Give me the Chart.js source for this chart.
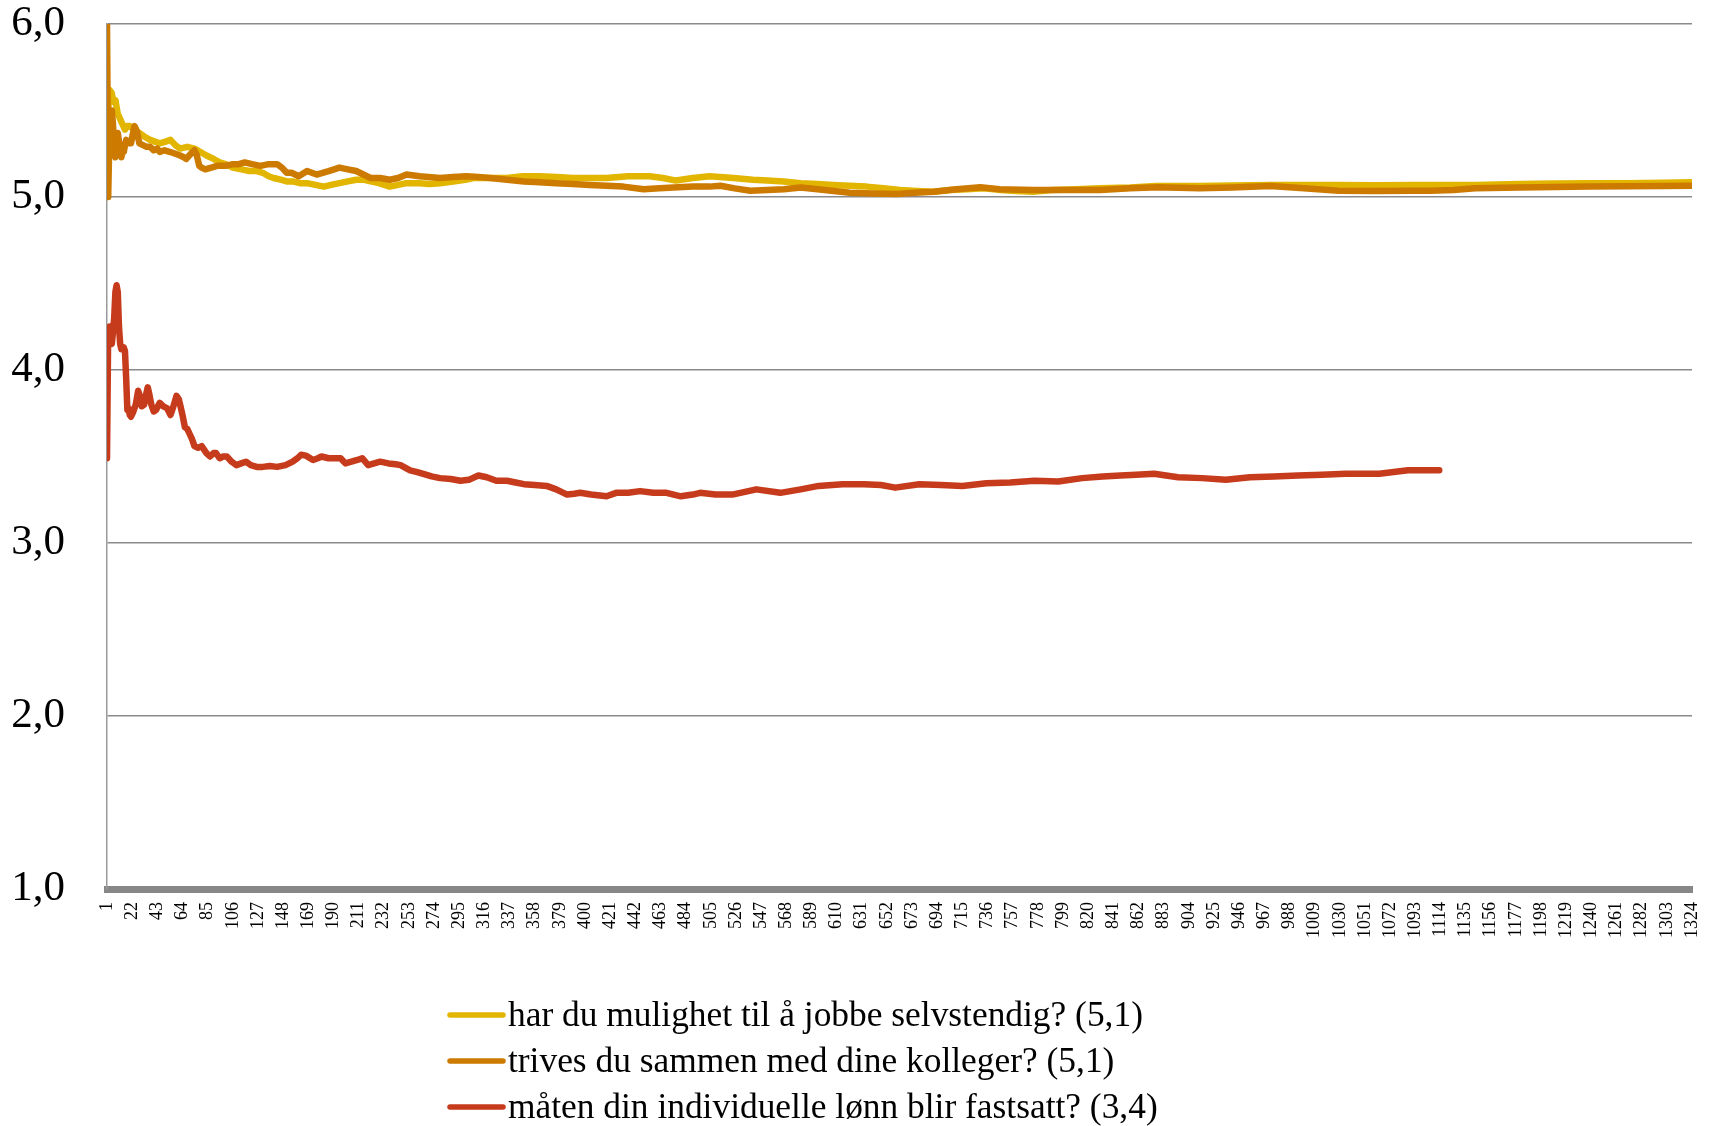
<!DOCTYPE html>
<html>
<head>
<meta charset="utf-8">
<script src="https://cdn.jsdelivr.net/npm/chart.js@4/dist/chart.umd.min.js"></script>
<style>
  html, body { margin: 0; padding: 0; background: #fff; }
  #wrap { width: 1709px; height: 1126px; position: relative; }
</style>
</head>
<body>
<div id="wrap"><canvas id="graf"></canvas></div>
<script>
// serienavn
const serieNavn = [
    'har du mulighet til å jobbe selvstendig? (5,1)',
    'trives du sammen med dine kolleger? (5,1)',
    'måten din individuelle lønn blir fastsatt? (3,4)'
];

// akse-etiketter (hver 21. respondent)
const xEtiketter = [1, 22, 43, 64, 85, 106, 127, 148, 169, 190, 211, 232, 253, 274, 295, 316, 337, 358, 379, 400,
    421, 442, 463, 484, 505, 526, 547, 568, 589, 610, 631, 652, 673, 694, 715, 736, 757, 778, 799, 820,
    841, 862, 883, 904, 925, 946, 967, 988, 1009, 1030, 1051, 1072, 1093, 1114, 1135, 1156, 1177, 1198,
    1219, 1240, 1261, 1282, 1303, 1324];
const yEtiketter = [1, 2, 3, 4, 5, 6];

// [respondent nr, løpende gjennomsnitt]
const selvstendig = [[1,5.0],[2,5.5],[3,5.62],[5,5.6],[6,5.55],[8,5.56],[10,5.48],[12,5.45],[14,5.42],[16,5.39],[18,5.41],[20,5.41],
    [22,5.40],[25,5.38],[28,5.37],[32,5.35],[37,5.33],[41,5.32],[45,5.31],[50,5.32],[54,5.33],[58,5.30],[62,5.28],[68,5.29],
    [74,5.28],[79,5.26],[84,5.24],[90,5.22],[95,5.20],[100,5.19],[106,5.17],[113,5.16],[120,5.15],[126,5.15],[131,5.14],
    [136,5.12],[140,5.11],[146,5.10],[151,5.09],[156,5.09],[162,5.08],[168,5.08],[175,5.07],[182,5.06],[188,5.07],[195,5.08],
    [202,5.09],[209,5.10],[215,5.10],[221,5.09],[228,5.08],[237,5.06],[244,5.07],[251,5.08],[262,5.08],[270,5.075],[279,5.08],
    [290,5.09],[300,5.10],[307,5.11],[320,5.11],[335,5.11],[348,5.12],[362,5.12],[376,5.115],[390,5.11],[404,5.11],[418,5.11],
    [436,5.12],[454,5.12],[465,5.11],[476,5.095],[490,5.11],[504,5.12],[524,5.11],[540,5.10],[552,5.095],[566,5.09],[580,5.08],
    [594,5.075],[607,5.07],[621,5.065],[635,5.06],[649,5.05],[663,5.04],[677,5.035],[691,5.03],[705,5.04],[719,5.045],[733,5.05],
    [747,5.04],[760,5.035],[774,5.03],[790,5.04],[810,5.045],[830,5.05],[855,5.055],[877,5.064],[900,5.064],[913,5.064],
    [940,5.066],[972,5.07],[1000,5.07],[1029,5.07],[1060,5.068],[1090,5.07],[1105,5.07],[1143,5.07],[1180,5.075],[1210,5.078],
    [1238,5.08],[1270,5.08],[1300,5.082],[1324,5.085]];

const kolleger = [[1,6.0],[2,5.0],[3,5.35],[4,5.5],[5,5.5],[6,5.42],[7,5.28],[8,5.23],[9,5.3],[10,5.37],[11,5.32],[12,5.25],
    [13,5.23],[14,5.28],[15,5.26],[16,5.30],[17,5.33],[19,5.31],[21,5.31],[23,5.38],[24,5.41],[26,5.38],[28,5.31],[31,5.30],
    [34,5.29],[37,5.29],[40,5.27],[43,5.28],[45,5.26],[49,5.27],[54,5.26],[58,5.25],[62,5.24],[65,5.23],[67,5.22],[71,5.25],
    [74,5.27],[76,5.24],[78,5.18],[80,5.17],[83,5.16],[88,5.17],[93,5.18],[100,5.18],[106,5.19],[111,5.19],[116,5.20],[122,5.19],
    [129,5.18],[136,5.19],[143,5.19],[147,5.17],[151,5.14],[155,5.14],[161,5.12],[168,5.15],[176,5.13],[186,5.15],[195,5.17],
    [202,5.16],[209,5.15],[215,5.13],[221,5.11],[229,5.11],[237,5.10],[244,5.11],[251,5.13],[262,5.12],[279,5.11],[290,5.115],
    [301,5.12],[311,5.115],[321,5.11],[335,5.10],[349,5.09],[362,5.085],[376,5.08],[390,5.075],[404,5.07],[418,5.065],[432,5.06],
    [449,5.045],[462,5.05],[474,5.055],[490,5.06],[504,5.06],[513,5.065],[525,5.05],[538,5.036],[552,5.04],[566,5.045],[580,5.055],
    [600,5.04],[621,5.025],[640,5.02],[660,5.017],[675,5.025],[691,5.03],[710,5.045],[730,5.056],[746,5.045],[774,5.04],[800,5.04],
    [830,5.04],[855,5.05],[878,5.056],[913,5.05],[940,5.055],[972,5.064],[1000,5.05],[1029,5.036],[1060,5.035],[1090,5.036],
    [1105,5.036],[1125,5.04],[1143,5.05],[1180,5.055],[1210,5.058],[1238,5.06],[1270,5.062],[1300,5.064],[1324,5.065]];

const lonn = [[1,3.49],[2,4.24],[3,4.25],[4,4.2],[5,4.15],[6,4.22],[7,4.3],[8,4.45],[9,4.49],[10,4.45],[11,4.25],[12,4.15],
    [13,4.12],[15,4.13],[16,4.11],[17,3.95],[18,3.77],[19,3.78],[20,3.74],[21,3.73],[23,3.76],[25,3.80],[27,3.88],[28,3.86],
    [30,3.79],[32,3.80],[33,3.84],[35,3.90],[36,3.87],[38,3.80],[40,3.76],[42,3.77],[45,3.81],[48,3.79],[51,3.78],[54,3.74],
    [56,3.78],[59,3.85],[61,3.83],[62,3.80],[64,3.74],[66,3.67],[68,3.66],[70,3.63],[72,3.60],[74,3.56],[77,3.55],[80,3.56],
    [84,3.52],[87,3.50],[90,3.52],[92,3.52],[95,3.49],[98,3.50],[101,3.50],[105,3.47],[109,3.45],[113,3.46],[117,3.47],
    [121,3.45],[126,3.44],[131,3.44],[137,3.445],[143,3.44],[150,3.45],[156,3.47],[160,3.49],[163,3.51],[167,3.505],[173,3.48],
    [177,3.49],[180,3.50],[186,3.49],[192,3.49],[196,3.49],[200,3.46],[205,3.47],[210,3.48],[214,3.49],[219,3.45],[224,3.46],
    [229,3.47],[236,3.46],[242,3.455],[246,3.45],[254,3.42],[260,3.41],[265,3.40],[272,3.385],[279,3.375],[288,3.37],[296,3.36],
    [303,3.365],[311,3.39],[318,3.38],[326,3.36],[335,3.36],[342,3.35],[349,3.34],[358,3.335],[368,3.33],[376,3.31],[385,3.28],
    [391,3.285],[396,3.29],[405,3.28],[418,3.27],[426,3.29],[436,3.29],[446,3.30],[457,3.29],[468,3.29],[480,3.27],[490,3.28],
    [496,3.29],[509,3.28],[523,3.28],[543,3.31],[563,3.29],[580,3.31],[595,3.33],[615,3.34],[633,3.34],[647,3.335],[659,3.32],
    [679,3.34],[697,3.335],[715,3.33],[735,3.345],[755,3.35],[775,3.36],[795,3.355],[815,3.375],[832,3.385],[847,3.39],
    [860,3.395],[875,3.40],[895,3.38],[915,3.375],[935,3.365],[955,3.38],[975,3.385],[995,3.39],[1015,3.395],[1035,3.40],
    [1050,3.40],[1063,3.40],[1075,3.41],[1087,3.42],[1100,3.42],[1113,3.42]];

const farger = ['#E2B500', '#CC7A00', '#C73B1D'];
const serier = [selvstendig, kolleger, lonn];

const skrift = '"Liberation Serif", "Times New Roman", serif';

// egen forklaring: venstrejustert, en linje per serie
const forklaring = {
    id: 'forklaring',
    afterDraw(chart) {
        const ctx = chart.ctx;
        const x0 = 450, y0 = chart.chartArea.bottom + 126;
        ctx.save();
        ctx.font = '35.4px ' + skrift;
        ctx.textBaseline = 'middle';
        ctx.fillStyle = '#000';
        chart.data.datasets.forEach((ds, i) => {
            const y = y0 + i * 46;
            ctx.strokeStyle = ds.borderColor;
            ctx.lineWidth = 5.5;
            ctx.lineCap = 'round';
            ctx.beginPath();
            ctx.moveTo(x0, y);
            ctx.lineTo(x0 + 53, y);
            ctx.stroke();
            ctx.fillText(ds.label, x0 + 58, y + 2);
        });
        ctx.restore();
    }
};

new Chart(document.getElementById('graf').getContext('2d'), {
    type: 'line',
    data: {
        datasets: serier.map((s, i) => ({
            label: serieNavn[i],
            data: s.map(p => ({ x: p[0], y: p[1] })),
            borderColor: farger[i],
            backgroundColor: farger[i],
            borderWidth: 6.5,
            pointRadius: 0,
            tension: 0,
            borderJoinStyle: 'round',
            borderCapStyle: 'round',
            order: 3 - i
        }))
    },
    options: {
        responsive: true,
        maintainAspectRatio: false,
        animation: false,
        layout: { padding: { left: 0, right: 17, top: 24, bottom: 0 } },
        plugins: {
            legend: { display: false },
            tooltip: { enabled: false }
        },
        scales: {
            x: {
                type: 'linear',
                min: 1,
                max: 1324,
                afterBuildTicks: scale => { scale.ticks = xEtiketter.map(v => ({ value: v })); },
                afterFit: scale => {
                    scale.height = 237;
                    scale.paddingLeft = 0;
                    scale.paddingRight = 0;
                },
                grid: { display: false, drawTicks: false },
                border: { display: true, color: '#878787', width: 7 },
                ticks: {
                    autoSkip: false,
                    maxRotation: 90,
                    minRotation: 90,
                    padding: 13,
                    color: '#000',
                    font: { family: skrift, size: 18 },
                    callback: v => String(v)
                }
            },
            y: {
                min: 1,
                max: 6,
                afterBuildTicks: scale => { scale.ticks = yEtiketter.map(v => ({ value: v })); },
                afterFit: scale => {
                    scale.width = 107;
                    scale.paddingTop = 0;
                    scale.paddingBottom = 0;
                },
                grid: { color: '#8a8a8a', lineWidth: 1.6, drawTicks: false },
                border: { display: true, color: '#9a9a9a', width: 1.5 },
                ticks: {
                    padding: 42,
                    color: '#000',
                    font: { family: skrift, size: 43 },
                    callback: v => v.toFixed(1).replace('.', ',')
                }
            }
        }
    },
    plugins: [forklaring]
});
</script>
</body>
</html>
